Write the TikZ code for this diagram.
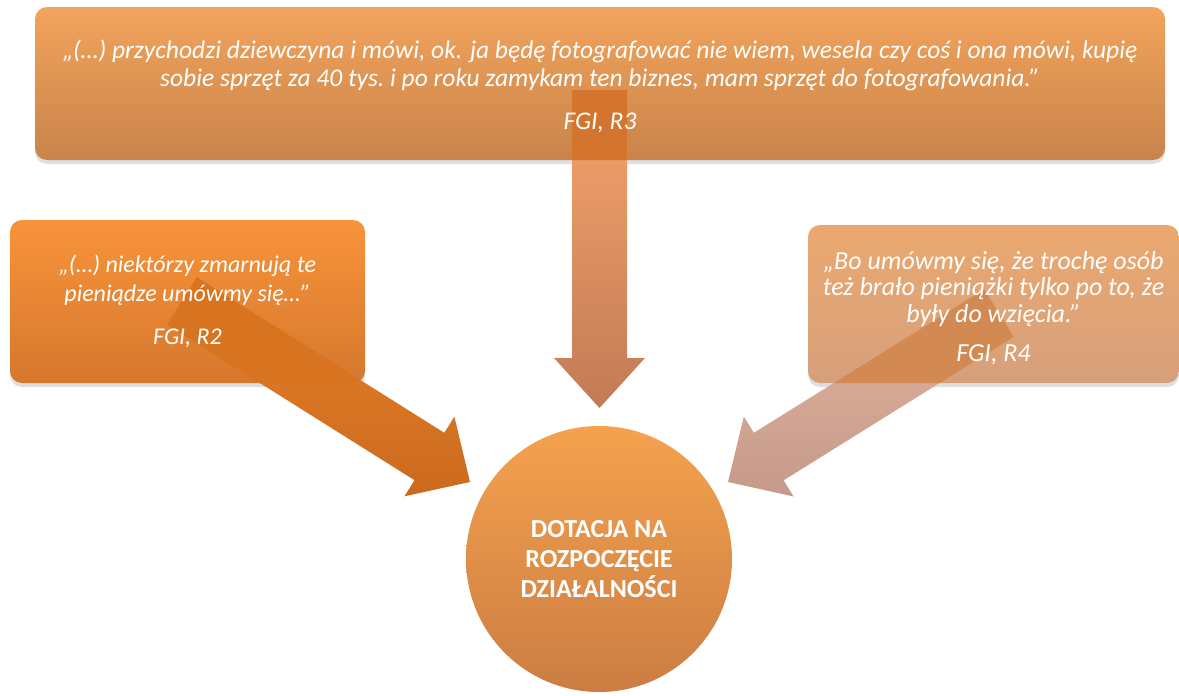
\documentclass[tikz,border=0pt]{standalone}
\usepackage{fontspec}
\setmainfont{Carlito}
\usetikzlibrary{shadows}

\definecolor{topA}{HTML}{F2A45C}
\definecolor{topB}{HTML}{C9834A}
\definecolor{topX}{HTML}{D3752F}
\definecolor{leftA}{HTML}{F8933A}
\definecolor{leftB}{HTML}{D5782D}
\definecolor{leftX}{HTML}{D8741F}
\definecolor{rightA}{HTML}{EBA86E}
\definecolor{rightB}{HTML}{D6A07C}
\definecolor{rightX}{HTML}{D28A52}
\definecolor{downA}{HTML}{F6A46C}
\definecolor{downB}{HTML}{C27B55}
\definecolor{slantA}{HTML}{E7822B}
\definecolor{slantB}{HTML}{CB6A1E}
\definecolor{paleA}{HTML}{E2B59E}
\definecolor{paleB}{HTML}{C59A8A}
\definecolor{dotA}{HTML}{F5A24E}
\definecolor{dotB}{HTML}{CB7D42}

\tikzset{
  quotebox/.style={rounded corners=12pt, inner sep=0pt,
    drop shadow={opacity=0.25, shadow xshift=0pt, shadow yshift=-4pt}},
  quotetext/.style={text=white, align=center, inner sep=0pt,
    font=\itshape\fontsize{24}{29}\selectfont},
  dottext/.style={text=white, align=center,
    font=\bfseries\fontsize{26}{30}\selectfont}
}

\begin{document}
\begin{tikzpicture}[x=1pt,y=-1pt]
  \useasboundingbox (0,0) rectangle (1179,696);

  % quote boxes
  \node[quotebox, minimum width=1130pt, minimum height=153pt,
    top color=topA, bottom color=topB] (R3) at (600,83.5) {};
  \node[quotebox, minimum width=355pt, minimum height=163pt,
    top color=leftA, bottom color=leftB] (R2) at (187.5,301.5) {};
  \node[quotebox, minimum width=371pt, minimum height=158pt,
    top color=rightA, bottom color=rightB] (R4) at (993.5,304) {};

  % arrow down
  \coordinate (dA) at (572.0, 90.0);
  \coordinate (dB) at (627.0, 90.0);
  \coordinate (dC) at (627.0, 358.0);
  \coordinate (dD) at (645.0, 358.0);
  \coordinate (dE) at (599.5, 408.0);
  \coordinate (dF) at (554.0, 358.0);
  \coordinate (dG) at (572.0, 358.0);

  % arrow from the left
  \coordinate (lA) at (196.9, 277.3);
  \coordinate (lB) at (444.3, 432.8);
  \coordinate (lC) at (454.4, 416.7);
  \coordinate (lD) at (470.0, 482.0);
  \coordinate (lE) at (404.4, 496.3);
  \coordinate (lF) at (414.5, 480.2);
  \coordinate (lG) at (167.1, 324.7);

  % arrow from the right
  \coordinate (rA) at (984.2, 289.2);
  \coordinate (rB) at (753.9, 432.8);
  \coordinate (rC) at (743.8, 416.7);
  \coordinate (rD) at (728.0, 482.0);
  \coordinate (rE) at (793.6, 496.5);
  \coordinate (rF) at (783.5, 480.4);
  \coordinate (rG) at (1013.8, 336.8);

  \shade[top color=downA, bottom color=downB]
    (dA) -- (dB) -- (dC) -- (dD) -- (dE) -- (dF) -- (dG) -- cycle;
  \shade[top color=slantA, bottom color=slantB]
    (lA) -- (lB) -- (lC) -- (lD) -- (lE) -- (lF) -- (lG) -- cycle;
  \shade[top color=paleA, bottom color=paleB]
    (rA) -- (rB) -- (rC) -- (rD) -- (rE) -- (rF) -- (rG) -- cycle;

  % where an arrow lies on its box
  \begin{scope}
    \clip (dA) -- (dB) -- (dC) -- (dD) -- (dE) -- (dF) -- (dG) -- cycle;
    \fill[topX, rounded corners=12pt] (R3.north west) rectangle (R3.south east);
  \end{scope}
  \begin{scope}
    \clip (lA) -- (lB) -- (lC) -- (lD) -- (lE) -- (lF) -- (lG) -- cycle;
    \fill[leftX, rounded corners=12pt] (R2.north west) rectangle (R2.south east);
  \end{scope}
  \begin{scope}
    \clip (rA) -- (rB) -- (rC) -- (rD) -- (rE) -- (rF) -- (rG) -- cycle;
    \fill[rightX, rounded corners=12pt] (R4.north west) rectangle (R4.south east);
  \end{scope}

  % texts
  \node[quotetext, font=\itshape\fontsize{25.5}{28}\selectfont] (R3t) at (600,86) {„(…) przychodzi dziewczyna i mówi, ok. ja będę fotografować nie wiem, wesela czy coś i ona mówi, kupię\\
    sobie sprzęt za 40 tys.\ i po roku zamykam ten biznes, mam sprzęt do fotografowania.”\\[15pt]
    FGI, R3};
  \node[quotetext] (R2t) at (R2.center) {„(…) niektórzy zmarnują te\\
    pieniądze umówmy się…”\\[14pt]
    FGI, R2};
  \node[quotetext, font=\itshape\fontsize{26}{26.5}\selectfont] (R4t) at (993.5,308) {„Bo umówmy się, że trochę osób\\
    też brało pieniążki tylko po to, że\\
    były do wzięcia.”\\[13pt]
    FGI, R4};

  % centre
  \node[circle, minimum size=266pt, top color=dotA, bottom color=dotB,
    dottext] (dot) at (599,559) {DOTACJA NA\\ ROZPOCZĘCIE\\ DZIAŁALNOŚCI};
\end{tikzpicture}
\end{document}
